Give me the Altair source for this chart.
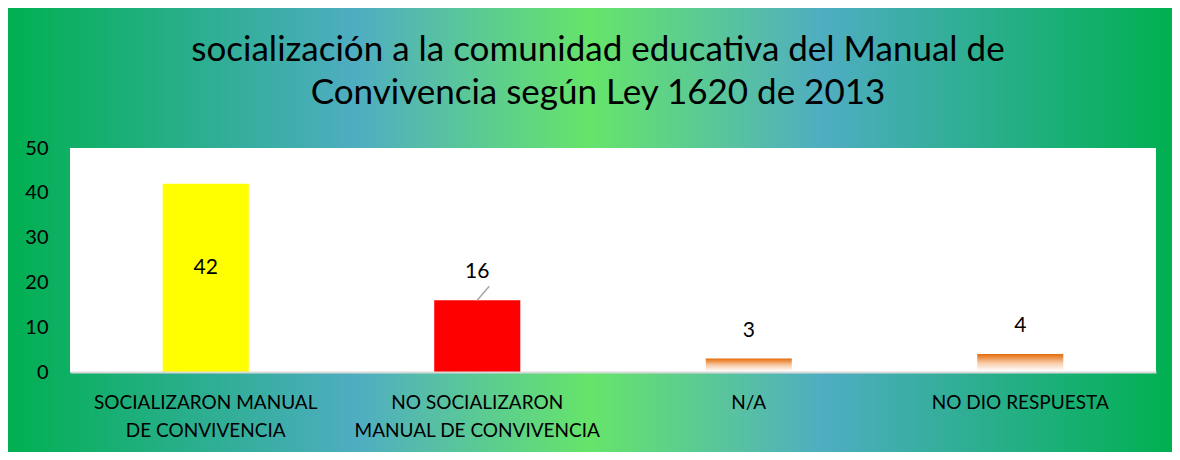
import json
import altair as alt
import pandas as pd

# ---- data ----
categories = [
    "SOCIALIZARON MANUAL DE CONVIVENCIA",
    "NO SOCIALIZARON MANUAL DE CONVIVENCIA",
    "N/A",
    "NO DIO RESPUESTA",
]
label_lines = [
    ["SOCIALIZARON MANUAL", "DE CONVIVENCIA"],
    ["NO SOCIALIZARON", "MANUAL DE CONVIVENCIA"],
    ["N/A"],
    ["NO DIO RESPUESTA"],
]
values = [42, 16, 3, 4]
bar_colors = ["#FFFF00", "#FF0000", "#E46C0A", "#E46C0A"]
y_ticks = [0, 10, 20, 30, 40, 50]
title_lines = [
    "socialización a la comunidad educativa del Manual de",
    "Convivencia según Ley 1620 de 2013",
]

df = pd.DataFrame({"cat": categories, "value": values, "color": bar_colors})

W, H = 1086, 224
FONT = "Lato"

label_expr = " : ".join(
    f"datum.value === {json.dumps(c)} ? {json.dumps(l)}" for c, l in zip(categories, label_lines)
) + " : datum.value"

x_enc = alt.X(
    "cat:N",
    sort=categories,
    scale=alt.Scale(paddingInner=0.683, paddingOuter=0.3415),
    axis=alt.Axis(
        title=None, labelAngle=0, labelFontSize=19, labelLineHeight=28,
        labelPadding=21, ticks=False, domainColor="#D9D9D9", domainWidth=2,
        labelExpr=label_expr, labelColor="#000000", labelFont=FONT, zindex=1,
        labelLimit=400,
    ),
)
y_enc = alt.Y(
    "value:Q",
    scale=alt.Scale(domain=[0, 50], nice=False),
    axis=alt.Axis(
        title=None, values=y_ticks, grid=False, domain=False, ticks=False,
        labelFontSize=20, labelPadding=22, labelColor="#000000", labelFont=FONT, zindex=1,
    ),
)

one = alt.Data(values=[{"a": 1}])

bg = alt.Chart(one).mark_rect(
    fill=alt.Gradient(
        gradient="linear", x1=0, y1=0, x2=1, y2=0,
        stops=[
            alt.GradientStop(color="#00B050", offset=0),
            alt.GradientStop(color="#4FADC2", offset=0.3),
            alt.GradientStop(color="#66E46A", offset=0.5),
            alt.GradientStop(color="#4FADC2", offset=0.7),
            alt.GradientStop(color="#00B050", offset=1),
        ],
    )
).encode(x=alt.value(-64), x2=alt.value(W + 18), y=alt.value(-144), y2=alt.value(H + 83))

plot_bg = alt.Chart(one).mark_rect(fill="white").encode(
    x=alt.value(0), x2=alt.value(W), y=alt.value(0), y2=alt.value(H)
)

title_text = alt.Chart(one).mark_text(
    fontSize=35, font=FONT, color="#000000", align="center",
    baseline="alphabetic", lineHeight=43,
).encode(x=alt.value(528), y=alt.value(-87), text=alt.value(title_lines))

base = alt.Chart(df)

solid_bars = base.transform_filter(
    alt.FieldOneOfPredicate(field="cat", oneOf=categories[:2])
).mark_bar().encode(x=x_enc, y=y_enc, color=alt.Color("color:N", scale=None))

grad_bars = base.transform_filter(
    alt.FieldOneOfPredicate(field="cat", oneOf=categories[2:])
).mark_bar(
    fill=alt.Gradient(
        gradient="linear", x1=0, y1=0, x2=0, y2=1,
        stops=[
            alt.GradientStop(color="#E46C0A", offset=0),
            alt.GradientStop(color="#F8CBA8", offset=0.5),
            alt.GradientStop(color="#FFFFFF", offset=0.95),
            alt.GradientStop(color="#FFFFFF", offset=1),
        ],
    )
).encode(x=x_enc, y=y_enc)

inner_label = base.transform_filter(
    alt.FieldEqualPredicate(field="cat", equal=categories[0])
).transform_calculate(mid="datum.value / 2").mark_text(
    fontSize=21, font=FONT, color="#000000", dy=-10
).encode(x=x_enc, y=alt.Y("mid:Q"), text="value:Q")

outer_labels = base.transform_filter(
    alt.FieldOneOfPredicate(field="cat", oneOf=categories[1:])
).mark_text(
    fontSize=21, font=FONT, color="#000000", dy=-28
).encode(x=x_enc, y=y_enc, text="value:Q")

leader = base.transform_filter(
    alt.FieldEqualPredicate(field="cat", equal=categories[1])
).mark_rule(color="#A6A6A6", strokeWidth=1.5, x2Offset=12, y2Offset=-14).encode(
    x=x_enc, x2=alt.X2("cat:N"), y=y_enc, y2=alt.Y2("value:Q")
)

chart = alt.layer(
    bg, plot_bg, title_text, solid_bars, grad_bars, inner_label, outer_labels, leader
).properties(
    width=W,
    height=H,
    autosize=alt.AutoSizeParams(type="none"),
    padding={"left": 62, "top": 140, "right": 16, "bottom": 80},
).configure_view(stroke=None).configure(background="white")

chart.save("out.html", embed_options={"renderer": "svg", "actions": False})
